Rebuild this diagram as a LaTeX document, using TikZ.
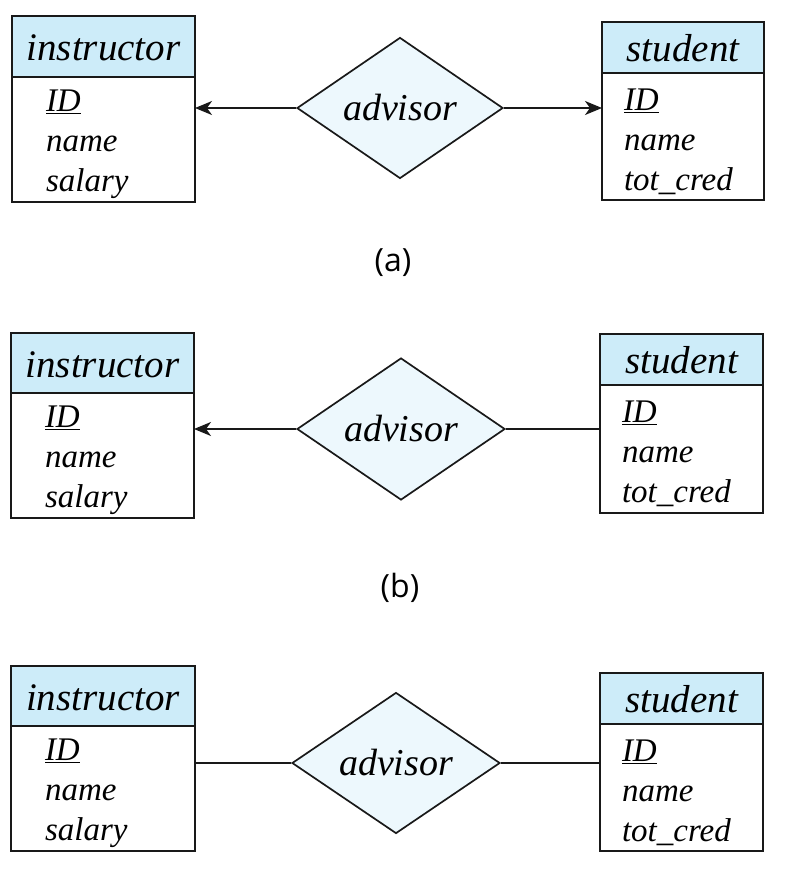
\documentclass[tikz,border=0pt]{standalone}
\usepackage{fontspec}
\setmainfont{Liberation Serif}
\setsansfont{Open Sans}
\usetikzlibrary{shapes.geometric, arrows.meta, positioning}
\definecolor{headblue}{RGB}{205,236,249}
\definecolor{relblue}{RGB}{237,248,253}
\newcommand{\topstrut}{\rule{0pt}{32pt}}
\tikzset{
    entityhead/.style={rectangle, draw=black!90, fill=headblue, line width=1.7pt, inner sep=0pt, outer sep=0pt, anchor=north west, text height=28pt, text depth=0pt, font=\fontsize{39}{42}\selectfont\itshape},
    entitybody/.style={rectangle, draw=black!90, fill=white, line width=1.7pt, inner ysep=0pt, outer sep=0pt, align=left, font=\fontsize{33}{40}\selectfont\itshape},
    relation/.style={diamond, draw=black!90, fill=relblue, line width=1.7pt, inner sep=0pt, font=\fontsize{38}{40}\selectfont\itshape},
    onearrow/.style={-{Stealth[length=17pt,width=14pt,inset=5pt]}, line width=1.7pt, black!90},
    manyline/.style={line width=1.7pt, black!90},
    caption/.style={font=\fontsize{32}{36}\selectfont\sffamily},
}

\begin{document}
\begin{tikzpicture}[x=1pt,y=-1pt]
\useasboundingbox (0,0) rectangle (786,878);

% Row (a) - one-to-one
\node[entityhead,minimum width=183pt,minimum height=61pt] (instrA) at (12,16) {instructor};
\node[entitybody,below=0pt of instrA,inner xsep=34pt,text width=115pt,minimum height=125pt] (instrAbody) {\topstrut\underline{ID}\\name\\salary};
\node[relation,minimum width=206pt,minimum height=141pt] (relA) at (400,108) {advisor};
\node[entityhead,minimum width=162pt,minimum height=51pt] (studA) at (602,22) {student};
\node[entitybody,below=0pt of studA,inner xsep=22pt,text width=118pt,minimum height=127pt] (studAbody) {\topstrut\underline{ID}\\name\\tot\_cred};
\draw[onearrow] (relA.west) -- (relA.west -| instrAbody.east);
\draw[onearrow] (relA.east) -- (relA.east -| studAbody.west);
\node[caption] (capA) at (393,263) {(a)};

% Row (b) - one-to-many
\node[entityhead,minimum width=183pt,minimum height=60pt] (instrB) at (11,333) {instructor};
\node[entitybody,below=0pt of instrB,inner xsep=34pt,text width=115pt,minimum height=125pt] (instrBbody) {\topstrut\underline{ID}\\name\\salary};
\node[relation,minimum width=208pt,minimum height=142pt] (relB) at (401,429) {advisor};
\node[entityhead,minimum width=163pt,minimum height=51pt] (studB) at (600,334) {student};
\node[entitybody,below=0pt of studB,inner xsep=22pt,text width=119pt,minimum height=128pt] (studBbody) {\topstrut\underline{ID}\\name\\tot\_cred};
\draw[onearrow] (relB.west) -- (relB.west -| instrBbody.east);
\draw[manyline] (relB.east) -- (relB.east -| studBbody.west);
\node[caption] (capB) at (400,588) {(b)};

% Row (c) - many-to-many
\node[entityhead,minimum width=184pt,minimum height=60pt] (instrC) at (11,666) {instructor};
\node[entitybody,below=0pt of instrC,inner xsep=34pt,text width=116pt,minimum height=125pt] (instrCbody) {\topstrut\underline{ID}\\name\\salary};
\node[relation,minimum width=208pt,minimum height=141pt] (relC) at (396,763) {advisor};
\node[entityhead,minimum width=163pt,minimum height=51pt] (studC) at (600,673) {student};
\node[entitybody,below=0pt of studC,inner xsep=22pt,text width=119pt,minimum height=127pt] (studCbody) {\topstrut\underline{ID}\\name\\tot\_cred};
\draw[manyline] (relC.west) -- (relC.west -| instrCbody.east);
\draw[manyline] (relC.east) -- (relC.east -| studCbody.west);
\end{tikzpicture}
\end{document}
